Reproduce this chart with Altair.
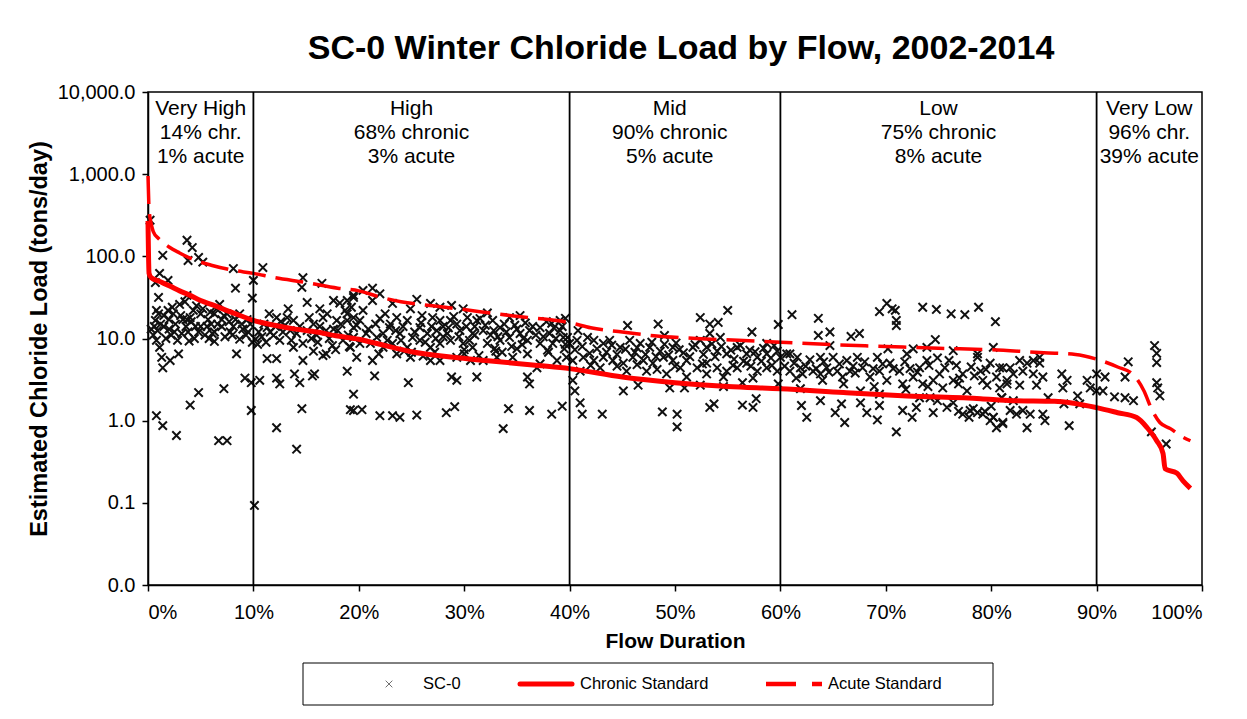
import altair as alt
import pandas as pd

FONT = "Arial, Liberation Sans, sans-serif"

# ---- standards (flow duration %, tons/day) ----
chronic_flow = [0, 0.1, 0.3, 1, 2, 3, 4, 5, 6, 8, 10, 12, 14, 16, 18, 20, 22, 25, 29, 32, 37, 40, 45, 50,
                55, 60, 66, 72, 79, 82, 86, 90, 92, 93.8, 94.8, 95.7, 96.3, 96.5, 97.6, 98.2, 98.9]
chronic_load = [270, 62, 55, 50, 44, 38, 33.5, 29, 26, 20.7, 16.6, 14.5, 13, 12, 10.7, 9.8, 8.5, 6.9, 5.9, 5.4,
                4.7, 4.3, 3.4, 2.9, 2.6, 2.45, 2.2, 2.0, 1.85, 1.75, 1.72, 1.44, 1.25, 1.09, 0.82, 0.57, 0.4,
                0.26, 0.23, 0.185, 0.15]

acute_flow = [0, 0.1, 0.3, 0.5, 1, 1.5, 2, 3, 4, 5, 6, 8, 10, 12, 15, 18, 20, 22, 24, 27, 30, 33, 36, 38,
              40, 42, 45, 48, 52, 56, 60, 65, 70, 75, 80, 85, 88, 90, 92, 93.5, 94.5, 95.2, 96, 97, 98, 98.9]
acute_load = [950, 380, 250, 200, 165, 145, 130, 110, 95, 85, 78, 68, 62, 55, 48, 41, 38, 32, 28, 25, 22.5,
              20, 18, 17, 15.6, 13.5, 12, 10.8, 10, 9.5, 9, 8.4, 8, 7.6, 7.3, 6.7, 6.4, 5.6, 4.5, 3.6, 2.3,
              1.4, 0.95, 0.8, 0.65, 0.57]

# ---- SC-0 observations (flow duration %, tons/day) ----
obs_flow = [
    # 0-10 %
    0.2, 1.4, 3.7, 4.2, 3.8, 4.8, 5.2, 8.1, 8.3, 10, 9.9, 0.7, 1.1, 1.9, 1.0, 3.7, 0.7, 0.8, 1.1, 1.3, 1.4,
    2.1, 2.9, 0.8, 1.4, 2.7, 4.0, 4.8, 6.7, 7.5, 7.2, 8.4, 9.2, 9.8, 9.8, 10.1,
    0.8, 1.9, 2.4, 3.0, 3.5, 3.3, 2.0, 1.5, 2.5, 2.2, 3.2, 3.8, 4.3, 5.0, 5.7, 6.3, 6.8, 7.0, 6.3, 5.4, 4.8,
    6.3, 7.5, 8.1, 8.7, 9.4, 7.8, 8.7, 9.5, 9.9, 10.2, 5.0, 4.5, 0.5, 0.9, 5.6, 3.7, 7.0,
    1.2, 2.6, 4.0, 6.0, 8.0, 9.0, 2.8, 5.8, 7.3, 1.7, 0.3, 6.5, 4.6,
    1.5, 2.3, 3.1, 3.6, 4.1, 4.4, 5.2, 5.9, 6.6, 7.2, 7.7, 8.3, 8.9, 9.3, 9.7, 2.0, 1.0, 0.6, 3.9, 6.1,
    # 10-20 %
    10.9, 14.7, 14.6, 16.5, 15.1, 16.3, 17.6, 18.2, 19.5, 13.3, 13.2, 12.2, 11.3, 11.9, 12.5, 13.8, 14.1,
    15.1, 15.7, 16.6, 16.9, 17.9, 18.9, 19.5, 18.5, 16.9, 15.7, 14.7, 13.8, 11.3, 12.2, 14.7, 16.6, 10.6,
    12.2, 12.5, 13.9, 14.4, 15.6, 15.8, 18.9, 19.5, 19.5, 12.2, 14.6, 14.1,
    10.5, 11.0, 12.8, 17.2, 18.0, 19.0, 10.4, 13.0, 15.5, 17.5, 11.5,
    10.8, 11.6, 12.1, 12.6, 13.5, 14.4, 15.3, 16.0, 16.3, 17.0, 17.6, 18.3, 18.7, 19.3, 19.8, 11.2, 13.6,
    16.1, 17.8, 19.1,
    # 20-40 %
    20.4, 21.3, 21.3, 18.9, 19.5, 20.4, 19.5, 20.1, 18.9, 23.2, 24.9, 23.6, 24.6, 26.8, 27.7, 28.8, 29.9,
    32.2, 34.3, 35.3, 38.3, 39.1, 27.0, 27.7, 28.7, 29.3, 30.3, 31.2, 32.7, 33.4, 31.8, 30.8, 29.6, 28.4,
    27.4, 26.5, 25.8, 25.1, 23.9, 22.9, 22.3, 21.7, 20.7, 19.5, 19.2, 20.1, 21.1, 22.3, 23.2, 24.6, 25.8,
    26.8, 27.7, 28.7, 29.9, 30.8, 32.2, 33.4, 34.3, 35.3, 36.2, 37.2, 38.1, 39.1, 39.8, 36.0, 37.2, 38.4,
    36.0, 34.6, 33.1, 31.8, 30.6, 29.3, 27.7, 26.8, 24.9, 23.6, 21.3, 19.8, 37.2, 38.8, 36.9, 21.5, 24.7,
    28.8, 29.3, 31.2, 36.0, 36.2, 19.2, 20.3, 22.0, 23.2, 23.9, 25.5, 28.3, 29.1, 33.7, 34.2, 36.2, 38.3,
    39.3, 22.5, 26.0, 31.0, 34.8, 35.8, 33.0, 35.0, 25.0, 30.0, 38.0, 39.5, 32.5, 28.0, 23.0, 22.0, 25.5,
    20.9, 21.6, 22.0, 22.7, 23.5, 24.2, 24.0, 25.3, 25.9, 26.3, 26.9, 27.3, 28.0, 28.5, 29.0, 29.5, 30.2,
    30.5, 31.0, 31.5, 32.0, 32.8, 33.2, 33.8, 34.0, 34.5, 35.0, 35.6, 36.5, 36.8, 37.5, 37.8, 38.5, 38.7,
    39.3, 39.6, 21.9, 24.3, 27.2, 30.0, 32.9, 35.5, 37.9, 31.4, 33.6, 26.1,
    # 40-60 %
    39.6, 40.8, 45.5, 48.4, 49.0, 52.4, 53.3, 54.1, 55.0, 53.3, 54.3, 57.3, 59.8, 58.7,
    39.4, 40.0, 40.7, 41.7, 42.3, 43.2, 43.8, 44.8, 45.7, 46.7, 47.6, 48.6, 49.8, 50.8, 51.7, 52.4, 53.0,
    54.0, 54.9, 55.9, 56.8, 57.8, 58.7, 59.7, 60.6,
    39.7, 40.3, 41.3, 42.3, 43.2, 44.1, 45.1, 46.0, 47.0, 47.9, 48.9, 49.8, 50.5, 51.1, 52.1, 53.0, 54.0,
    54.9, 55.9, 56.8, 57.8, 58.7, 59.7, 41.0, 42.9, 45.4, 47.3, 49.2, 51.1, 53.0, 54.6, 56.4, 57.4, 59.8,
    40.3, 40.5, 41.0, 41.2, 43.1, 45.1, 46.5, 48.8, 50.2, 50.2, 50.9, 52.4, 53.3, 53.7, 54.6, 56.4, 57.4,
    57.7, 49.5,
    40.5, 41.2, 41.9, 42.6, 43.5, 44.0, 44.5, 45.3, 46.2, 46.4, 47.2, 47.8, 48.2, 49.0, 49.4, 50.1, 50.4,
    51.4, 51.9, 52.7, 53.5, 53.8, 54.4, 55.3, 55.6, 56.2, 56.5, 57.1, 57.6, 58.2, 58.4, 59.1, 59.4,
    42.0, 44.5, 46.4, 48.3, 50.0, 52.6, 55.5, 57.2, 59.2,
    # 60-80 %
    61.1, 63.6, 63.6, 64.7, 66.7, 67.5, 69.4, 70.1, 70.6, 70.9, 71.0, 71.0, 73.5, 74.8, 76.2, 77.5, 78.8,
    80.4, 74.7, 73.9, 72.6, 80.2, 76.4, 64.7, 78.7, 70.2,
    60.0, 60.9, 61.6, 60.9, 61.9, 62.1, 63.1, 63.8, 63.8, 64.4, 65.0, 65.4, 65.9, 66.3, 66.6, 67.3, 67.8,
    68.5, 69.2, 69.4, 70.1, 70.4, 71.3, 71.6, 72.0, 72.6, 73.2, 73.5, 73.9, 74.5, 75.1, 75.4, 76.0, 76.4,
    77.3, 77.7, 78.7, 79.0, 79.2, 79.9, 80.8, 81.5, 80.8,
    62.0, 62.5, 63.8, 65.2, 65.8, 66.1, 67.6, 68.2, 69.2, 69.4, 71.0, 71.6, 72.5, 72.9, 74.5, 75.8, 76.4,
    77.3, 78.0, 78.7, 79.2, 79.9, 80.5, 81.1, 80.2, 74.9, 74.2, 73.2, 69.4, 67.6, 61.9, 81.0,
    60.4, 61.3, 62.4, 62.8, 63.4, 64.1, 64.6, 65.6, 66.9, 67.1, 68.0, 68.8, 69.7, 70.7, 71.8, 72.3, 73.0,
    74.1, 74.9, 75.6, 76.7, 77.0, 78.1, 78.4, 79.5, 61.5, 64.0, 66.0, 68.9, 71.9, 74.0, 76.9, 79.6,
    77.9, 78.3, 79.4, 76.9, 80.0,
    # 80-100 %
    82.7, 84.0, 84.6, 81.1, 82.1, 83.0, 84.0, 84.9, 80.5, 81.5, 82.7, 84.3, 85.4, 86.7, 87.2, 86.8, 86.9,
    87.4, 88.2, 88.4, 89.1, 89.4, 90.0, 90.0, 90.8, 90.6, 91.7, 92.7, 93.5, 92.7, 93.0, 95.5, 95.7, 95.7,
    95.7, 95.8, 96.0, 95.2, 96.6,
    80.2, 81.1, 81.8, 82.4, 83.0, 83.4, 83.7, 84.9, 85.1, 81.0, 82.1, 81.8, 83.4, 84.6,
]
obs_load = [
    # 0-10 %
    275, 103, 157, 128, 89, 97, 85, 71, 41, 51, 31, 48, 62, 51, 31.6, 33.5, 16.6, 9.5, 7.8, 5.9, 4.4,
    5.4, 6.5, 1.15, 0.87, 0.66, 1.55, 2.2, 0.57, 0.57, 2.45, 6.5, 3.3, 2.9, 1.33, 0.093,
    22, 22, 20, 26, 28, 17, 17, 14, 12, 11, 11.5, 12, 22, 20, 17, 20, 26, 14, 12, 11, 12,
    9.2, 20, 14, 20, 17, 12, 9.8, 12, 9, 9.8, 14, 14, 11, 12.5, 14, 17, 17,
    15, 15, 18, 15, 11, 13, 9.5, 10, 10.5, 10, 13, 23, 25,
    19, 24, 19, 14, 16, 10, 23, 21, 15, 19, 16, 17, 15, 11, 15, 13, 20, 14, 9.3, 11.5,
    # 10-20 %
    73, 55, 42, 47, 27.5, 23, 29, 27, 31.6, 23, 18, 18, 13.6, 10.9, 9.5, 16.6, 11.5,
    12.5, 15, 18, 12.5, 16.6, 20, 13.6, 9.5, 6.5, 7, 8.7, 7.8, 5.7, 5.7, 5.4, 6.2, 3.1,
    3.3, 2.8, 3.7, 2.9, 3.5, 3.7, 4, 2.1, 1.33, 0.82, 1.4, 0.45,
    12, 15, 12, 10, 12.5, 11, 8.5, 14.5, 10, 8.2, 20,
    10.5, 12, 14, 16, 12.5, 14, 18, 11, 14, 20, 13, 15, 22, 24, 14.5, 9, 9.5,
    9, 7.3, 8,
    # 20-40 %
    38.5, 41, 29, 29, 33.5, 22, 18, 16.6, 16.6, 26.7, 23, 18, 16.6, 26.7, 24, 25.3, 23,
    20.5, 18, 19, 15.3, 16.6, 18, 16.6, 16.6, 15, 18, 16.6, 16.6, 13.6, 12.5, 11.5, 12.5, 11.5,
    12.5, 11.5, 13.6, 10.3, 11.5, 13.6, 11.5, 10.3, 11.5, 10.3, 7.8, 8.7, 8.7, 7.8, 8.7, 7.8, 9.5,
    7.8, 8.7, 9.5, 8.7, 7.8, 8.7, 9.5, 10.3, 11.5, 12.5, 13.6, 11.5, 12.5, 10.3, 9.5, 8.7, 8.7,
    6.5, 5.9, 5.9, 5.4, 5.4, 5.9, 5.4, 5.4, 5.9, 6.5, 5.4, 5.9, 4.9, 5.4, 4.4, 3.5, 2.9,
    3.4, 3.1, 3.4, 3.4, 2.8, 1.36, 1.36, 1.15, 1.15, 1.1, 1.17, 1.25, 1.48, 0.8, 1.4, 1.33, 1.2,
    1.5, 20, 19, 14, 14.5, 15.5, 7, 7.5, 6.8, 6.5, 6.8, 7.5, 11, 14, 15, 35, 30,
    13, 15, 17.5, 9.5, 12.5, 14, 9.5, 12, 15.5, 9, 14, 10, 10.5, 13.5, 18.5, 10.5, 14,
    9.5, 11, 17.5, 14.5, 12.5, 10.5, 15, 12, 8, 13, 10, 14, 11, 10.5, 16, 13.5, 10,
    14, 8.5, 6.5, 7, 6.8, 7.3, 7.6, 8.4, 7.2, 6.2, 6.8, 6.1,
    # 40-60 %
    17.6, 12.5, 14.4, 15, 10.9, 18, 15, 15.7, 22, 11.5, 10.3, 12, 14.8, 8.7,
    10.3, 8.7, 9.5, 10.3, 9.5, 8.7, 9.5, 7.8, 9.5, 8.7, 7.8, 7, 7.8, 6.7, 7.8, 9.5, 7.8,
    7, 6.5, 7.8, 6.5, 5.9, 6.5, 7, 6.5,
    5.9, 5.4, 5.9, 5.4, 5.9, 5.4, 5, 5.9, 5.4, 5, 5.9, 5.4, 4.4, 5.4, 4.4, 5, 4.4,
    4, 4.4, 5, 4, 4.4, 4, 4, 4.4, 4, 4, 3.7, 3.4, 3.7, 3.4, 2.9, 3.3, 2.8,
    3.1, 2.3, 1.65, 1.2, 1.2, 2.3, 2.7, 1.28, 1.2, 0.84, 2.5, 2.7, 1.45, 1.6, 2.6, 1.55, 1.45,
    1.85, 2.5,
    7.3, 8, 6.6, 7.5, 6.8, 8.3, 6.4, 7.4, 6.8, 7.7, 6.4, 9, 6, 8.5, 6.3, 8.8, 7.3,
    6, 8.4, 6.4, 8.6, 6, 8, 7.2, 5.6, 8.2, 5.3, 7.2, 6.9, 5.3, 7.6, 5.8, 8.2,
    4.7, 4.6, 4.8, 4.2, 4.6, 4.9, 4.7, 4.6, 4.7,
    # 60-80 %
    19.5, 17.6, 10.9, 12, 10.6, 11.5, 21.3, 26.7, 23, 22, 16.6, 14.4, 24, 22.6, 20, 19.5, 24,
    16, 9.7, 7.8, 7.5, 7.8, 7.1, 8.2, 6.5, 7.5,
    5.9, 6.5, 5.9, 4, 4.4, 3.7, 4, 5.9, 3.7, 4.4, 5.9, 4, 3.4, 5.4, 4, 5.9, 4.4,
    3.4, 5.9, 4, 3.1, 5, 4, 2.8, 6.5, 3.4, 4.4, 2.8, 5.4, 3.1, 3.7, 2.5, 5.4, 3.1,
    3.7, 2.3, 5.9, 4, 3.1, 5, 4.4, 3.1, 2.5,
    1.53, 1.1, 1.75, 1.25, 1.6, 0.95, 1.65, 1.25, 1.02, 1.53, 0.73, 1.33, 1.1, 1.45, 1.25, 1.45, 1.65,
    1.2, 1.33, 1.25, 1.2, 1.0, 0.82, 0.95, 1.1, 1.75, 1.9, 1.9, 2.1, 2.3, 2.45, 1.9,
    4.6, 5, 4.6, 5.5, 4.3, 5.2, 3.9, 4.9, 4.6, 3.8, 5.2, 4.3, 4.9, 4.3, 5.2, 4.3, 3.9,
    4.7, 5.8, 4.4, 4.7, 3.3, 4.5, 3.5, 4.2, 3.3, 3.1, 2.8, 2.6, 2.4, 2.6, 2.8, 2.7,
    1.1, 1.4, 1.3, 1.3, 1.5,
    # 80-100 %
    5.4, 5.4, 5, 4.4, 3.7, 4, 3.7, 3.4, 3.4, 2.8, 2.7, 2.7, 1.9, 3.7, 3.1, 2.5, 1.6,
    0.87, 2.0, 1.6, 3.1, 2.5, 3.7, 2.3, 3.4, 2.3, 1.95, 1.9, 1.75, 3.4, 5.2, 8.2, 6.6, 5.1,
    2.9, 2.5, 2.0, 0.73, 0.52,
    1.1, 0.92, 1.33, 1.2, 1.33, 0.82, 1.2, 1.2, 1.0, 1.9, 1.75, 4.4, 5, 5.9,
]

zone_bounds = [10, 40, 60, 90]
zone_center = [5, 25, 49.5, 75, 95]
zone_text = [
    "Very High\n14% chr.\n1% acute",
    "High\n68% chronic\n3% acute",
    "Mid\n90% chronic\n5% acute",
    "Low\n75% chronic\n8% acute",
    "Very Low\n96% chr.\n39% acute",
]

legend_labels = ["SC-0", "Chronic Standard", "Acute Standard"]

y_ticks = [0.01, 0.1, 1, 10, 100, 1000, 10000]
x_ticks = list(range(0, 101, 10))

obs = pd.DataFrame({"flow": obs_flow, "load": obs_load})
chronic = pd.DataFrame({"flow": chronic_flow, "load": chronic_load})
acute = pd.DataFrame({"flow": acute_flow, "load": acute_load})
zones = pd.DataFrame({"flow": zone_bounds})
ztext = pd.DataFrame({"flow": zone_center, "label": zone_text})

xs = alt.Scale(domain=[0, 100], nice=False, zero=False)
ys = alt.Scale(type="log", domain=[0.01, 10000], nice=False)

common_axis = dict(grid=False, tickSize=6, labelFont=FONT, labelFontSize=20, labelColor="black",
                   titleFont=FONT, titleFontWeight="bold", titleColor="black", domainColor="black",
                   domainWidth=1.5, tickColor="black", tickWidth=1.5)
x_axis = alt.Axis(values=x_ticks, labelExpr="datum.value + '%'", title="Flow Duration",
                  labelPadding=11, titlePadding=8, titleFontSize=21, **common_axis)
y_axis = alt.Axis(values=y_ticks, format=",.1f", title="Estimated Chloride Load (tons/day)",
                  labelPadding=7, titlePadding=6, titleFontSize=23.5, **common_axis)

X = alt.X("flow:Q", scale=xs, axis=x_axis)
Y = alt.Y("load:Q", scale=ys, axis=y_axis)

CROSS = "M-1,-1L1,1M-1,1L1,-1"

pts = alt.Chart(obs).mark_point(shape=CROSS, size=70, filled=False, color="#111111",
                                strokeWidth=2, opacity=1).encode(x=X, y=Y)
chr_line = alt.Chart(chronic).mark_line(color="#FF0000", strokeWidth=5, interpolate="monotone").encode(x=X, y=Y)
ac_line = alt.Chart(acute).mark_line(color="#FF0000", strokeWidth=3.5, strokeDash=[28, 10],
                                     interpolate="monotone").encode(x=X, y=Y)
rules = alt.Chart(zones).mark_rule(color="black", strokeWidth=1.8).encode(x=X)
txt = alt.Chart(ztext).mark_text(font=FONT, fontSize=21, lineBreak="\n", lineHeight=24,
                                 baseline="top", align="center", color="black").encode(
    x=X, y=alt.value(6), text="label:N")

one = pd.DataFrame({"a": [0]})
# legend (decoration, placed below the plot)
leg_box = alt.Chart(one).mark_rect(fill="white", stroke="black", strokeWidth=1).encode(
    x=alt.value(155), x2=alt.value(845), y=alt.value(571), y2=alt.value(613))
leg_x = alt.Chart(one).mark_point(shape=CROSS, size=45, filled=False, color="#333333", strokeWidth=1).encode(
    x=alt.value(241), y=alt.value(592))
leg_chr = alt.Chart(one).mark_rule(color="#FF0000", strokeWidth=5, strokeCap="round").encode(
    x=alt.value(372), x2=alt.value(424), y=alt.value(592))
leg_ac = alt.Chart(one).mark_rule(color="#FF0000", strokeWidth=4.5, strokeDash=[30, 16, 10, 100]).encode(
    x=alt.value(618), x2=alt.value(676), y=alt.value(592))
leg_txt = alt.Chart(pd.DataFrame({"t": legend_labels, "px": [275, 432, 680]})).mark_text(
    font=FONT, fontSize=16.5, align="left", baseline="middle", color="black").encode(
    x=alt.X("px:Q", scale=None), y=alt.value(592), text="t:N")

chart = alt.layer(pts, chr_line, ac_line, rules, txt, leg_box, leg_x, leg_chr, leg_ac, leg_txt).properties(
    width=1054, height=493,
    title=alt.TitleParams("SC-0 Winter Chloride Load by Flow, 2002-2014", font=FONT, fontSize=34,
                          fontWeight="bold", anchor="middle", offset=16, dx=6, color="black"),
    autosize=alt.AutoSizeParams(type="none"),
    padding={"left": 140, "top": 84, "right": 37, "bottom": 124},
    background="white",
).configure_view(stroke="black", strokeWidth=1.5)

chart.save("out.html", embed_options={"renderer": "svg", "actions": False})
